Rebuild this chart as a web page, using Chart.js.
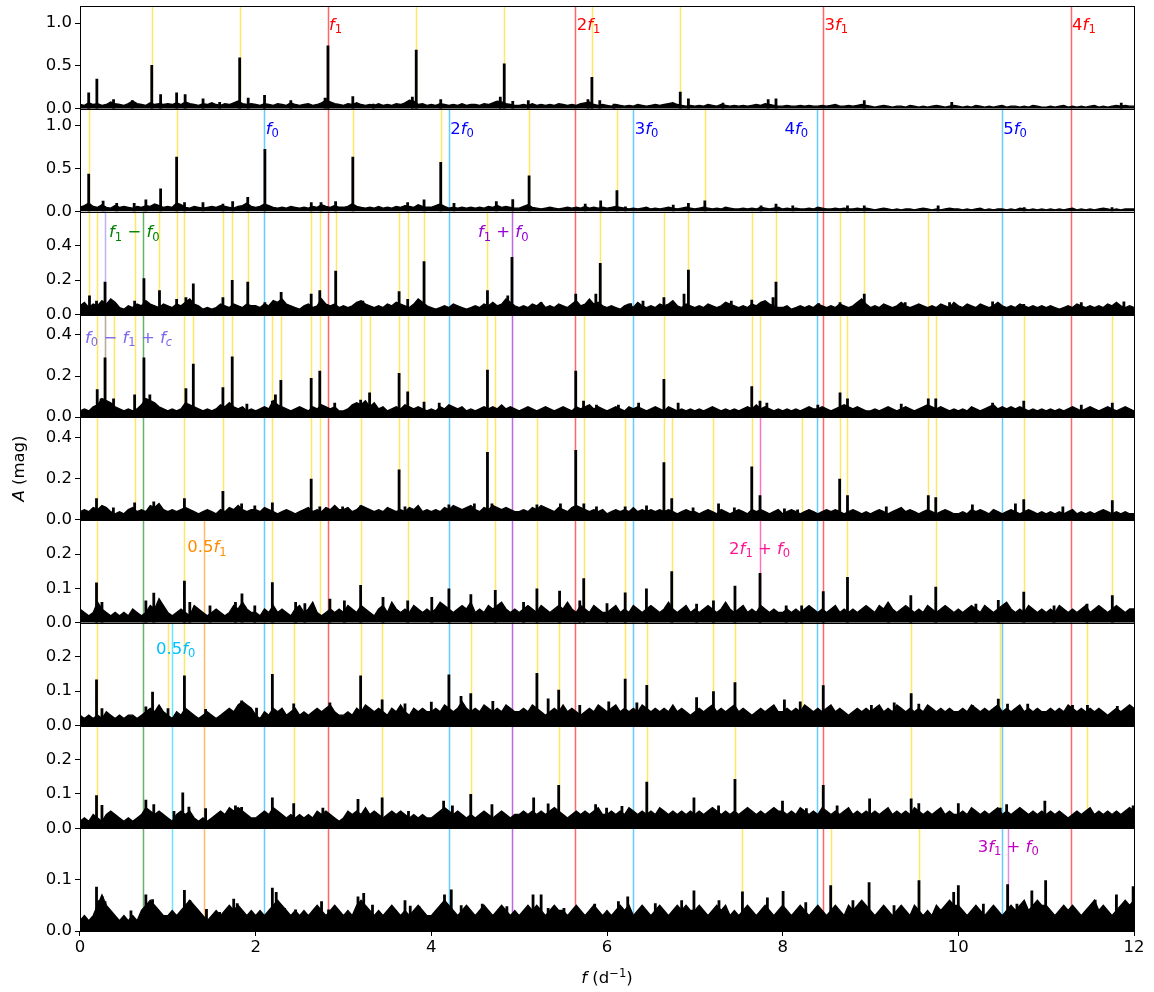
<!DOCTYPE html>
<html>
<head>
<meta charset="utf-8">
<script src="https://cdn.jsdelivr.net/npm/chart.js@4.4.0/dist/chart.umd.min.js"></script>
<style>
  body { margin: 0; background: #fff; }
  #wrap { position: relative; width: 1154px; height: 992px; }
</style>
</head>
<body>
<div id="wrap"><canvas id="myChart" width="1154" height="992"></canvas></div>
<script>
// amplitude spectra, 9 prewhitening stages, f in 1/d, A in mag
const nPanels = 9;
const freqStep = 0.05;
const yMax = [1.2, 1.2, 0.6, 0.5, 0.5, 0.3, 0.3, 0.3, 0.2];
const yTicks = [[0, 0.5, 1.0], [0, 0.5, 1.0], [0, 0.2, 0.4], [0, 0.2, 0.4], [0, 0.2, 0.4],
                [0, 0.1, 0.2], [0, 0.1, 0.2], [0, 0.1, 0.2], [0, 0.1]];

// background noise, one value every 0.05 d^-1 from 0 to 12 (one row = 1 d^-1)
const noise = [
  [0.05,0.04,0.07,0.05,0.06,0.04,0.05,0.08,0.06,0.05,0.04,0.06,0.09,0.06,0.05,0.04,0.07,0.05,0.06,0.05,
   0.06,0.05,0.07,0.05,0.08,0.06,0.05,0.04,0.06,0.05,0.07,0.05,0.04,0.06,0.05,0.07,0.09,0.06,0.05,0.06,
   0.05,0.04,0.06,0.05,0.04,0.06,0.05,0.04,0.07,0.05,0.04,0.05,0.06,0.04,0.05,0.07,0.10,0.08,0.06,0.05,
   0.04,0.06,0.05,0.07,0.05,0.04,0.05,0.04,0.06,0.04,0.05,0.04,0.06,0.05,0.07,0.10,0.09,0.05,0.06,0.04,
   0.05,0.04,0.06,0.05,0.04,0.05,0.04,0.06,0.04,0.05,0.05,0.04,0.06,0.05,0.07,0.09,0.08,0.06,0.05,0.04,
   0.04,0.05,0.04,0.06,0.04,0.05,0.04,0.05,0.04,0.06,0.05,0.04,0.05,0.04,0.06,0.07,0.08,0.05,0.04,0.05,
   0.04,0.03,0.05,0.04,0.03,0.04,0.03,0.05,0.04,0.03,0.04,0.05,0.04,0.05,0.06,0.07,0.05,0.04,0.03,0.04,
   0.03,0.04,0.03,0.05,0.04,0.03,0.05,0.04,0.03,0.04,0.03,0.04,0.03,0.04,0.05,0.04,0.06,0.05,0.04,0.03,
   0.03,0.04,0.03,0.03,0.04,0.03,0.04,0.03,0.03,0.04,0.03,0.04,0.05,0.03,0.03,0.04,0.03,0.04,0.05,0.04,
   0.03,0.02,0.03,0.04,0.03,0.02,0.03,0.03,0.02,0.04,0.03,0.02,0.03,0.02,0.03,0.04,0.03,0.02,0.03,0.04,
   0.03,0.02,0.03,0.02,0.04,0.03,0.02,0.03,0.02,0.03,0.04,0.02,0.03,0.03,0.02,0.03,0.02,0.04,0.03,0.02,
   0.02,0.03,0.02,0.03,0.04,0.02,0.03,0.02,0.03,0.02,0.03,0.04,0.02,0.03,0.02,0.03,0.04,0.03,0.04,0.03,
   0.03],
  [0.05,0.07,0.10,0.06,0.05,0.08,0.05,0.04,0.07,0.05,0.06,0.05,0.04,0.06,0.05,0.07,0.06,0.09,0.07,0.05,
   0.06,0.05,0.10,0.08,0.05,0.04,0.06,0.05,0.04,0.05,0.06,0.05,0.07,0.06,0.05,0.04,0.06,0.07,0.10,0.06,
   0.05,0.06,0.09,0.07,0.05,0.04,0.05,0.04,0.06,0.05,0.04,0.05,0.04,0.06,0.05,0.08,0.06,0.05,0.07,0.05,
   0.05,0.06,0.09,0.06,0.05,0.04,0.05,0.04,0.06,0.04,0.05,0.04,0.06,0.05,0.07,0.06,0.05,0.08,0.06,0.05,
   0.05,0.07,0.09,0.06,0.04,0.05,0.04,0.05,0.04,0.05,0.04,0.05,0.04,0.06,0.05,0.07,0.05,0.06,0.05,0.04,
   0.04,0.06,0.08,0.05,0.04,0.03,0.04,0.05,0.04,0.03,0.04,0.05,0.04,0.05,0.04,0.06,0.04,0.05,0.04,0.05,
   0.04,0.05,0.06,0.05,0.04,0.03,0.04,0.03,0.04,0.05,0.03,0.04,0.03,0.04,0.05,0.04,0.03,0.04,0.05,0.04,
   0.03,0.04,0.05,0.04,0.03,0.04,0.03,0.05,0.04,0.03,0.03,0.04,0.03,0.04,0.03,0.05,0.04,0.03,0.04,0.05,
   0.03,0.04,0.03,0.04,0.03,0.03,0.04,0.03,0.05,0.04,0.03,0.03,0.04,0.03,0.04,0.03,0.03,0.04,0.03,0.04,
   0.03,0.02,0.03,0.04,0.03,0.02,0.03,0.02,0.03,0.03,0.02,0.03,0.04,0.03,0.02,0.03,0.02,0.03,0.04,0.03,
   0.03,0.02,0.03,0.02,0.03,0.04,0.02,0.03,0.02,0.03,0.03,0.02,0.03,0.02,0.04,0.03,0.02,0.03,0.02,0.03,
   0.02,0.03,0.02,0.03,0.02,0.03,0.04,0.02,0.03,0.02,0.03,0.02,0.03,0.04,0.03,0.02,0.03,0.02,0.03,0.03,
   0.03],
  [0.05,0.07,0.04,0.06,0.05,0.08,0.06,0.09,0.07,0.04,0.03,0.05,0.04,0.06,0.05,0.08,0.06,0.05,0.04,0.06,
   0.05,0.04,0.06,0.05,0.07,0.09,0.06,0.05,0.03,0.04,0.03,0.04,0.06,0.05,0.04,0.06,0.05,0.04,0.06,0.05,
   0.05,0.04,0.06,0.05,0.08,0.07,0.09,0.06,0.05,0.04,0.03,0.05,0.06,0.04,0.05,0.09,0.06,0.05,0.06,0.04,
   0.05,0.04,0.05,0.07,0.08,0.06,0.05,0.04,0.05,0.04,0.06,0.05,0.07,0.06,0.05,0.04,0.06,0.09,0.07,0.05,
   0.04,0.03,0.04,0.05,0.04,0.06,0.05,0.04,0.03,0.04,0.05,0.04,0.06,0.05,0.07,0.05,0.06,0.09,0.07,0.05,
   0.04,0.05,0.04,0.06,0.05,0.07,0.04,0.05,0.04,0.06,0.05,0.04,0.06,0.08,0.05,0.06,0.09,0.06,0.07,0.05,
   0.04,0.05,0.04,0.03,0.05,0.06,0.04,0.07,0.05,0.04,0.05,0.04,0.06,0.05,0.06,0.08,0.05,0.04,0.06,0.05,
   0.04,0.05,0.04,0.06,0.05,0.04,0.05,0.07,0.06,0.05,0.04,0.05,0.04,0.06,0.05,0.07,0.08,0.06,0.05,0.04,
   0.04,0.05,0.03,0.04,0.05,0.04,0.05,0.04,0.06,0.05,0.04,0.05,0.04,0.06,0.05,0.04,0.05,0.07,0.09,0.06,
   0.04,0.05,0.04,0.06,0.05,0.04,0.05,0.07,0.05,0.04,0.05,0.06,0.05,0.04,0.05,0.04,0.06,0.05,0.04,0.07,
   0.05,0.04,0.06,0.05,0.04,0.06,0.05,0.04,0.05,0.07,0.05,0.04,0.05,0.04,0.06,0.05,0.04,0.05,0.04,0.05,
   0.04,0.05,0.04,0.03,0.04,0.05,0.04,0.06,0.05,0.04,0.05,0.04,0.05,0.04,0.06,0.05,0.07,0.05,0.04,0.05,
   0.04],
  [0.03,0.04,0.03,0.05,0.06,0.09,0.08,0.07,0.05,0.04,0.03,0.04,0.03,0.04,0.06,0.09,0.08,0.07,0.05,0.04,
   0.03,0.04,0.03,0.04,0.07,0.06,0.05,0.04,0.03,0.04,0.03,0.04,0.06,0.05,0.07,0.05,0.04,0.05,0.03,0.04,
   0.03,0.04,0.05,0.04,0.08,0.06,0.05,0.04,0.03,0.04,0.05,0.04,0.03,0.05,0.04,0.06,0.05,0.04,0.05,0.03,
   0.03,0.04,0.06,0.07,0.06,0.08,0.05,0.07,0.04,0.05,0.03,0.04,0.05,0.04,0.06,0.05,0.04,0.05,0.04,0.03,
   0.04,0.03,0.05,0.04,0.06,0.05,0.04,0.05,0.03,0.04,0.03,0.04,0.05,0.04,0.05,0.04,0.06,0.04,0.05,0.04,
   0.03,0.04,0.05,0.04,0.03,0.04,0.05,0.04,0.03,0.04,0.05,0.04,0.03,0.05,0.04,0.05,0.06,0.04,0.05,0.04,
   0.03,0.04,0.05,0.04,0.03,0.05,0.04,0.05,0.04,0.03,0.04,0.05,0.04,0.03,0.05,0.04,0.03,0.04,0.03,0.04,
   0.03,0.04,0.03,0.04,0.05,0.04,0.03,0.04,0.03,0.04,0.03,0.04,0.05,0.04,0.06,0.04,0.05,0.04,0.03,0.04,
   0.03,0.04,0.03,0.04,0.03,0.04,0.05,0.04,0.04,0.05,0.04,0.03,0.04,0.05,0.06,0.05,0.04,0.05,0.04,0.03,
   0.03,0.04,0.03,0.04,0.05,0.04,0.03,0.04,0.05,0.04,0.03,0.04,0.05,0.06,0.05,0.04,0.05,0.04,0.03,0.04,
   0.03,0.04,0.03,0.05,0.04,0.03,0.04,0.05,0.06,0.04,0.05,0.04,0.05,0.04,0.05,0.04,0.03,0.04,0.03,0.04,
   0.03,0.04,0.03,0.04,0.03,0.04,0.05,0.04,0.03,0.04,0.05,0.04,0.03,0.04,0.05,0.04,0.03,0.04,0.05,0.04,
   0.03],
  [0.04,0.05,0.04,0.06,0.05,0.07,0.06,0.04,0.03,0.04,0.03,0.05,0.06,0.04,0.05,0.04,0.07,0.06,0.08,0.05,
   0.04,0.05,0.04,0.05,0.06,0.05,0.04,0.03,0.04,0.05,0.04,0.03,0.05,0.04,0.06,0.05,0.07,0.05,0.04,0.05,
   0.05,0.04,0.06,0.05,0.04,0.03,0.04,0.05,0.04,0.03,0.04,0.05,0.06,0.04,0.05,0.04,0.06,0.05,0.07,0.05,
   0.05,0.06,0.04,0.05,0.07,0.06,0.05,0.04,0.05,0.04,0.06,0.05,0.04,0.05,0.04,0.06,0.05,0.07,0.04,0.05,
   0.04,0.05,0.04,0.06,0.05,0.07,0.06,0.05,0.06,0.07,0.05,0.04,0.06,0.05,0.07,0.06,0.05,0.06,0.05,0.04,
   0.04,0.05,0.04,0.06,0.05,0.07,0.06,0.05,0.04,0.06,0.05,0.04,0.06,0.07,0.06,0.05,0.04,0.05,0.04,0.05,
   0.03,0.04,0.05,0.04,0.05,0.04,0.06,0.04,0.05,0.04,0.05,0.04,0.05,0.04,0.05,0.04,0.03,0.04,0.05,0.04,
   0.04,0.03,0.04,0.05,0.04,0.03,0.05,0.04,0.03,0.04,0.05,0.04,0.03,0.05,0.04,0.05,0.04,0.03,0.04,0.05,
   0.03,0.04,0.05,0.04,0.03,0.04,0.05,0.04,0.03,0.04,0.05,0.04,0.05,0.04,0.03,0.04,0.05,0.04,0.03,0.04,
   0.03,0.04,0.05,0.04,0.03,0.04,0.05,0.06,0.04,0.05,0.04,0.03,0.04,0.05,0.04,0.03,0.04,0.05,0.04,0.03,
   0.03,0.04,0.03,0.05,0.04,0.05,0.04,0.03,0.05,0.04,0.03,0.04,0.05,0.04,0.03,0.04,0.05,0.04,0.03,0.04,
   0.03,0.04,0.03,0.04,0.03,0.04,0.05,0.03,0.04,0.03,0.04,0.03,0.04,0.05,0.04,0.03,0.04,0.03,0.04,0.03,
   0.03],
  [0.04,0.03,0.02,0.03,0.06,0.04,0.03,0.02,0.03,0.02,0.03,0.02,0.04,0.03,0.02,0.03,0.05,0.04,0.07,0.05,
   0.03,0.02,0.03,0.04,0.03,0.02,0.05,0.04,0.03,0.02,0.03,0.04,0.03,0.02,0.03,0.05,0.04,0.06,0.04,0.03,
   0.03,0.02,0.04,0.03,0.05,0.03,0.04,0.03,0.02,0.04,0.05,0.03,0.04,0.06,0.03,0.02,0.03,0.04,0.03,0.04,
   0.03,0.05,0.04,0.03,0.05,0.04,0.03,0.02,0.04,0.05,0.03,0.06,0.04,0.03,0.04,0.03,0.05,0.04,0.03,0.04,
   0.03,0.04,0.06,0.05,0.04,0.03,0.04,0.05,0.04,0.06,0.03,0.04,0.03,0.05,0.04,0.05,0.06,0.04,0.03,0.04,
   0.03,0.04,0.05,0.04,0.03,0.05,0.04,0.03,0.04,0.05,0.04,0.06,0.04,0.03,0.05,0.04,0.03,0.05,0.04,0.03,
   0.03,0.04,0.05,0.03,0.04,0.03,0.05,0.04,0.03,0.04,0.05,0.04,0.03,0.04,0.06,0.04,0.03,0.04,0.05,0.03,
   0.04,0.03,0.04,0.05,0.04,0.03,0.04,0.06,0.04,0.03,0.04,0.05,0.03,0.04,0.03,0.05,0.04,0.03,0.04,0.03,
   0.03,0.04,0.03,0.04,0.03,0.04,0.05,0.04,0.03,0.04,0.03,0.04,0.05,0.03,0.04,0.03,0.04,0.03,0.04,0.05,
   0.04,0.03,0.05,0.04,0.06,0.04,0.03,0.04,0.05,0.04,0.03,0.04,0.03,0.05,0.04,0.03,0.04,0.05,0.04,0.03,
   0.04,0.03,0.04,0.05,0.04,0.03,0.05,0.04,0.03,0.04,0.05,0.06,0.04,0.03,0.04,0.03,0.05,0.04,0.03,0.04,
   0.03,0.04,0.03,0.05,0.04,0.03,0.04,0.03,0.04,0.05,0.03,0.04,0.05,0.04,0.03,0.04,0.05,0.04,0.03,0.04,
   0.04],
  [0.03,0.02,0.03,0.02,0.03,0.02,0.04,0.03,0.02,0.03,0.02,0.03,0.03,0.02,0.03,0.04,0.05,0.04,0.06,0.04,
   0.03,0.02,0.04,0.03,0.05,0.04,0.03,0.02,0.03,0.04,0.03,0.02,0.03,0.04,0.05,0.04,0.06,0.07,0.06,0.05,
   0.03,0.02,0.04,0.03,0.05,0.04,0.05,0.03,0.04,0.05,0.03,0.04,0.03,0.04,0.05,0.04,0.05,0.06,0.04,0.03,
   0.03,0.04,0.03,0.05,0.04,0.06,0.05,0.04,0.05,0.04,0.03,0.05,0.04,0.06,0.04,0.03,0.05,0.04,0.05,0.04,
   0.04,0.05,0.04,0.06,0.05,0.04,0.05,0.07,0.05,0.04,0.05,0.04,0.06,0.05,0.04,0.05,0.04,0.06,0.05,0.04,
   0.04,0.05,0.04,0.06,0.05,0.04,0.03,0.04,0.05,0.04,0.06,0.04,0.05,0.04,0.03,0.04,0.05,0.04,0.06,0.05,
   0.04,0.05,0.06,0.04,0.05,0.04,0.05,0.04,0.06,0.05,0.04,0.05,0.04,0.05,0.04,0.06,0.04,0.05,0.04,0.03,
   0.04,0.05,0.04,0.05,0.06,0.04,0.05,0.04,0.05,0.06,0.04,0.05,0.04,0.03,0.04,0.05,0.04,0.05,0.06,0.04,
   0.04,0.05,0.04,0.05,0.04,0.06,0.05,0.04,0.05,0.04,0.05,0.06,0.04,0.05,0.04,0.03,0.04,0.05,0.04,0.05,
   0.04,0.05,0.06,0.04,0.05,0.04,0.06,0.05,0.04,0.05,0.04,0.05,0.04,0.06,0.05,0.04,0.05,0.04,0.05,0.04,
   0.04,0.05,0.04,0.06,0.05,0.04,0.05,0.04,0.05,0.06,0.04,0.05,0.04,0.05,0.06,0.04,0.05,0.04,0.05,0.04,
   0.04,0.05,0.04,0.05,0.04,0.06,0.05,0.04,0.05,0.04,0.05,0.04,0.05,0.04,0.03,0.04,0.05,0.04,0.05,0.06,
   0.05],
  [0.02,0.03,0.02,0.04,0.03,0.02,0.04,0.05,0.04,0.03,0.02,0.03,0.02,0.03,0.04,0.06,0.05,0.04,0.05,0.04,
   0.03,0.02,0.04,0.05,0.04,0.05,0.03,0.02,0.03,0.02,0.03,0.04,0.05,0.04,0.06,0.05,0.06,0.05,0.04,0.03,
   0.03,0.04,0.05,0.04,0.06,0.05,0.04,0.03,0.04,0.03,0.04,0.03,0.04,0.03,0.05,0.04,0.05,0.04,0.03,0.02,
   0.03,0.05,0.04,0.05,0.04,0.06,0.04,0.05,0.04,0.03,0.04,0.05,0.04,0.05,0.04,0.03,0.04,0.03,0.04,0.03,
   0.03,0.04,0.05,0.06,0.05,0.04,0.05,0.04,0.03,0.04,0.03,0.04,0.05,0.04,0.03,0.04,0.05,0.04,0.03,0.04,
   0.04,0.05,0.04,0.05,0.04,0.05,0.04,0.05,0.06,0.05,0.04,0.03,0.04,0.05,0.04,0.05,0.04,0.05,0.06,0.04,
   0.04,0.05,0.04,0.05,0.04,0.06,0.05,0.04,0.05,0.04,0.05,0.04,0.06,0.05,0.04,0.05,0.04,0.05,0.04,0.05,
   0.04,0.05,0.04,0.05,0.06,0.05,0.04,0.05,0.04,0.05,0.04,0.05,0.06,0.05,0.04,0.05,0.04,0.05,0.06,0.05,
   0.05,0.04,0.05,0.04,0.06,0.05,0.04,0.05,0.04,0.06,0.05,0.04,0.05,0.04,0.05,0.06,0.04,0.05,0.04,0.05,
   0.04,0.05,0.04,0.05,0.06,0.04,0.05,0.04,0.05,0.04,0.06,0.05,0.04,0.05,0.04,0.05,0.06,0.04,0.05,0.04,
   0.04,0.05,0.04,0.06,0.05,0.04,0.05,0.04,0.05,0.06,0.04,0.05,0.04,0.05,0.06,0.05,0.04,0.05,0.04,0.05,
   0.04,0.05,0.04,0.05,0.04,0.03,0.04,0.05,0.04,0.05,0.06,0.04,0.05,0.04,0.05,0.04,0.05,0.04,0.05,0.06,
   0.05],
  [0.02,0.03,0.02,0.03,0.05,0.07,0.05,0.04,0.03,0.02,0.03,0.02,0.03,0.02,0.04,0.05,0.06,0.05,0.04,0.03,
   0.03,0.04,0.03,0.04,0.05,0.06,0.05,0.04,0.03,0.02,0.03,0.04,0.03,0.04,0.05,0.04,0.05,0.04,0.03,0.04,
   0.03,0.04,0.03,0.04,0.05,0.06,0.05,0.04,0.03,0.04,0.03,0.04,0.03,0.04,0.05,0.04,0.03,0.04,0.05,0.04,
   0.03,0.04,0.03,0.05,0.06,0.05,0.04,0.03,0.04,0.03,0.04,0.05,0.04,0.03,0.04,0.03,0.04,0.05,0.04,0.03,
   0.03,0.04,0.05,0.06,0.05,0.04,0.03,0.04,0.05,0.04,0.03,0.04,0.05,0.04,0.03,0.04,0.05,0.04,0.03,0.04,
   0.03,0.04,0.05,0.04,0.05,0.04,0.03,0.04,0.05,0.04,0.04,0.03,0.04,0.05,0.04,0.03,0.04,0.05,0.04,0.03,
   0.04,0.03,0.04,0.05,0.04,0.05,0.03,0.04,0.05,0.04,0.03,0.04,0.05,0.04,0.03,0.04,0.05,0.04,0.05,0.04,
   0.04,0.05,0.04,0.03,0.04,0.05,0.04,0.05,0.03,0.04,0.03,0.04,0.05,0.04,0.03,0.04,0.05,0.04,0.03,0.04,
   0.05,0.04,0.03,0.04,0.05,0.04,0.03,0.04,0.05,0.04,0.03,0.04,0.05,0.04,0.03,0.05,0.04,0.05,0.06,0.05,
   0.04,0.03,0.04,0.05,0.04,0.03,0.04,0.05,0.04,0.03,0.05,0.04,0.03,0.04,0.03,0.05,0.04,0.05,0.06,0.05,
   0.05,0.04,0.03,0.04,0.05,0.04,0.03,0.04,0.05,0.04,0.03,0.04,0.05,0.04,0.05,0.06,0.04,0.05,0.06,0.05,
   0.05,0.04,0.03,0.04,0.05,0.04,0.05,0.04,0.03,0.04,0.05,0.06,0.04,0.05,0.04,0.03,0.04,0.05,0.06,0.05,
   0.06]
];

// resolved peaks: frequency and amplitude, per panel
const peakFreq = [
  [0.099,0.192,0.382,0.595,0.817,0.918,1.100,1.197,1.401,1.590,1.818,1.915,2.101,2.400,2.790,2.823,3.106,3.340,3.784,3.828,
   4.107,4.785,4.830,4.927,5.104,5.783,5.828,5.918,6.080,6.834,6.927,7.320,7.835,7.924,8.929,9.925,11.855],
  [0.099,0.263,0.418,0.617,0.750,0.918,1.100,1.190,1.400,1.627,1.738,1.910,2.105,2.633,2.744,2.910,3.106,3.730,3.917,4.107,
   4.258,4.740,4.927,5.113,5.752,5.928,6.113,6.210,6.754,6.927,7.114,7.754,7.924,8.115,8.738,8.929,9.770,10.750,11.750],
  [0.108,0.188,0.285,0.380,0.622,0.728,0.905,1.100,1.206,1.290,1.627,1.733,1.910,2.105,2.290,2.632,2.730,2.911,3.220,3.633,
   3.731,3.917,4.639,4.870,4.918,5.250,5.644,5.873,5.923,6.270,6.410,6.648,6.877,6.927,7.415,7.648,7.740,7.890,7.924,8.410,
   8.653,8.929,9.395,9.900,10.390,10.745,11.400,11.885],
  [0.196,0.240,0.285,0.382,0.622,0.728,0.795,1.206,1.290,1.627,1.733,1.900,2.190,2.225,2.287,2.632,2.730,2.900,3.195,3.297,
   3.633,3.731,3.917,4.090,4.639,5.644,5.733,5.880,6.130,6.360,6.648,6.810,7.648,7.742,7.820,8.400,8.653,8.738,9.350,9.658,
   9.743,10.390,10.745,11.400,11.753],
  [0.188,0.380,0.622,0.840,1.189,1.627,1.840,1.990,2.190,2.632,2.730,2.990,3.195,3.633,3.700,4.200,4.490,4.639,4.690,5.202,
   5.470,5.644,5.736,5.880,6.207,6.450,6.648,6.737,6.980,7.270,7.450,7.648,7.742,8.020,8.170,8.649,8.738,9.180,9.658,9.743,
   10.160,10.650,10.745,11.190,11.753],
  [0.188,0.250,0.750,0.840,1.189,1.250,1.480,1.770,1.844,1.990,2.190,2.455,2.560,2.845,3.010,3.195,3.450,3.731,4.005,4.200,
   4.450,4.728,5.050,5.202,5.460,5.690,5.735,6.000,6.207,6.449,6.737,7.020,7.212,7.457,7.742,8.040,8.216,8.462,8.738,9.205,
   9.459,9.743,10.200,10.455,10.745,11.090,11.465,11.753],
  [0.188,0.250,0.750,0.826,1.002,1.189,1.430,1.840,2.010,2.190,2.433,2.845,3.195,3.440,3.700,4.000,4.200,4.338,4.449,4.700,
   5.202,5.330,5.450,5.690,6.020,6.207,6.340,6.453,7.020,7.212,7.457,8.020,8.200,8.462,9.010,9.270,9.463,9.550,10.160,10.455,
   10.560,10.790,11.300,11.470,11.810],
  [0.188,0.250,0.750,0.840,1.070,1.170,1.240,1.430,1.770,1.840,2.190,2.433,2.765,3.165,3.440,3.740,4.140,4.240,4.449,4.690,
   5.165,5.330,5.450,5.870,5.995,6.170,6.453,6.990,7.270,7.457,7.998,8.270,8.462,8.620,8.990,9.463,9.550,10.000,10.477,10.550,
   10.985,11.470,11.990],
  [0.188,0.220,0.254,0.285,0.580,0.750,0.826,1.189,1.250,1.440,1.590,1.750,1.790,2.190,2.234,2.330,2.455,2.750,2.830,3.165,
   3.230,3.330,3.700,3.760,3.860,4.150,4.227,4.340,4.580,4.860,5.158,5.250,5.330,5.510,5.860,6.130,6.236,6.550,6.850,6.990,
   7.275,7.542,7.826,8.005,8.263,8.547,8.800,8.984,9.268,9.552,9.947,10.000,10.285,10.561,10.667,10.837,10.994,11.558,11.800,11.990]
];
const peakAmp = [
  [0.19,0.35,0.11,0.10,0.51,0.17,0.19,0.17,0.12,0.08,0.60,0.13,0.16,0.10,0.13,0.74,0.145,0.06,0.14,0.69,
   0.11,0.14,0.53,0.09,0.10,0.11,0.37,0.10,0.06,0.20,0.12,0.07,0.11,0.12,0.10,0.08,0.07],
  [0.44,0.125,0.10,0.10,0.14,0.27,0.64,0.11,0.11,0.09,0.12,0.17,0.73,0.11,0.11,0.12,0.64,0.11,0.14,0.58,
   0.10,0.12,0.145,0.42,0.09,0.13,0.25,0.06,0.08,0.10,0.13,0.07,0.09,0.07,0.07,0.07,0.07,0.05,0.05],
  [0.11,0.08,0.19,0.07,0.08,0.21,0.14,0.09,0.10,0.18,0.10,0.20,0.19,0.07,0.13,0.12,0.14,0.255,0.08,0.135,
   0.09,0.31,0.14,0.11,0.335,0.07,0.12,0.12,0.30,0.065,0.08,0.10,0.12,0.26,0.08,0.085,0.05,0.10,0.19,0.065,
   0.07,0.12,0.07,0.07,0.075,0.06,0.07,0.075],
  [0.135,0.09,0.29,0.09,0.11,0.29,0.11,0.14,0.26,0.145,0.295,0.065,0.08,0.11,0.18,0.19,0.225,0.07,0.085,0.12,
   0.215,0.125,0.075,0.07,0.23,0.225,0.08,0.06,0.06,0.07,0.185,0.07,0.15,0.08,0.07,0.06,0.12,0.09,0.065,0.09,
   0.09,0.07,0.08,0.06,0.07],
  [0.105,0.06,0.085,0.09,0.105,0.14,0.08,0.07,0.085,0.20,0.065,0.065,0.07,0.245,0.065,0.075,0.08,0.33,0.08,0.075,
   0.08,0.34,0.08,0.065,0.065,0.07,0.28,0.105,0.06,0.08,0.06,0.26,0.12,0.055,0.05,0.20,0.12,0.065,0.12,0.11,
   0.075,0.08,0.10,0.065,0.095],
  [0.117,0.06,0.065,0.087,0.122,0.06,0.05,0.06,0.085,0.05,0.118,0.06,0.057,0.07,0.065,0.11,0.075,0.065,0.075,0.10,
   0.083,0.095,0.06,0.10,0.093,0.065,0.13,0.057,0.088,0.10,0.15,0.055,0.065,0.108,0.145,0.05,0.05,0.092,0.133,0.055,
   0.08,0.105,0.055,0.066,0.09,0.05,0.055,0.08],
  [0.134,0.05,0.055,0.098,0.05,0.146,0.048,0.073,0.052,0.15,0.064,0.067,0.146,0.076,0.064,0.069,0.149,0.086,0.094,0.071,
   0.153,0.079,0.104,0.06,0.07,0.136,0.067,0.118,0.082,0.10,0.126,0.076,0.07,0.117,0.06,0.067,0.094,0.063,0.06,0.078,
   0.063,0.063,0.06,0.06,0.057],
  [0.096,0.068,0.083,0.07,0.05,0.104,0.063,0.058,0.066,0.062,0.09,0.073,0.06,0.085,0.09,0.05,0.08,0.066,0.10,0.07,
   0.09,0.072,0.126,0.07,0.06,0.065,0.136,0.09,0.066,0.144,0.08,0.058,0.126,0.066,0.087,0.087,0.073,0.073,0.06,0.07,
   0.08,0.04,0.066],
  [0.086,0.06,0.067,0.058,0.04,0.071,0.062,0.08,0.06,0.043,0.037,0.063,0.054,0.084,0.076,0.045,0.042,0.058,0.042,0.067,
   0.074,0.051,0.06,0.049,0.048,0.071,0.081,0.05,0.053,0.048,0.071,0.071,0.045,0.045,0.053,0.058,0.067,0.054,0.06,0.079,
   0.06,0.077,0.065,0.078,0.056,0.089,0.06,0.095,0.05,0.099,0.076,0.089,0.053,0.091,0.053,0.079,0.099,0.061,0.071,0.087]
];

// identified frequencies (vertical markers)
const f1Harmonics = [2.820, 5.640, 8.460, 11.280];
const f0Harmonics = [2.099, 4.199, 6.298, 8.396, 10.495];
const comboFreq  = [0.721, 4.918, 0.285, 1.410, 7.740, 1.050, 10.560];
const comboFirst = [2, 2, 2, 5, 4, 6, 8];
const comboLast  = [8, 8, 3, 8, 5, 8, 8];
// aliases marked in each panel
const aliasFreq = [
  [0.817, 1.818, 3.828, 4.830, 5.828, 6.834],
  [0.099, 1.100, 3.106, 4.107, 5.113, 6.113, 7.114],
  [0.099, 0.188, 0.622, 0.905, 1.100, 1.189, 1.627, 1.733, 1.910, 2.632, 2.730, 2.911, 3.633, 3.731, 3.917, 4.639,
   5.923, 6.648, 6.927, 7.648, 7.924, 8.653, 8.929, 9.658],
  [0.188, 0.285, 0.382, 0.622, 1.189, 1.290, 1.627, 1.733, 2.190, 2.287, 2.632, 2.730, 3.195, 3.297, 3.633, 3.731,
   3.917, 4.639, 4.728, 5.733, 6.648, 7.648, 7.742, 8.653, 8.738, 9.658, 9.743, 10.744, 11.753],
  [0.188, 0.622, 1.189, 1.627, 2.190, 2.632, 2.730, 3.195, 3.633, 3.731, 4.639, 4.728, 5.202, 5.735, 6.207, 6.648,
   6.737, 7.212, 7.648, 8.216, 8.649, 8.738, 9.658, 9.743, 10.744, 11.753],
  [0.188, 1.189, 2.190, 2.730, 3.195, 3.731, 4.728, 5.202, 5.735, 6.207, 6.737, 7.212, 8.216, 8.738, 9.743, 10.744, 11.753],
  [0.188, 1.002, 1.189, 2.190, 2.433, 3.195, 3.440, 4.449, 5.202, 5.450, 6.207, 6.453, 7.212, 7.457, 8.216, 9.463,
   10.477, 11.469],
  [0.188, 2.433, 3.440, 4.449, 5.450, 6.453, 7.457, 9.463, 10.477, 11.469],
  [7.542, 8.547, 9.552]
];

// marker labels
const labelText  = ['f_1', '2f_1', '3f_1', '4f_1', 'f_0', '2f_0', '3f_0', '4f_0', '5f_0',
                    'f_1 − f_0', 'f_1 + f_0', 'f_0 − f_1 + f_c', '0.5f_1', '2f_1 + f_0', '0.5f_0', '3f_1 + f_0'];
const labelPanel = [0, 0, 0, 0, 1, 1, 1, 1, 1, 2, 2, 3, 5, 5, 6, 8];
const labelFreq  = [2.835, 5.655, 8.475, 11.295, 2.115, 4.215, 6.315, 8.290, 10.510,
                    0.330, 4.530, 0.057, 1.220, 7.390, 0.865, 10.220];
const labelAmp   = [0.92, 0.92, 0.92, 0.92, 0.91, 0.91, 0.91, 0.91, 0.91,
                    0.45, 0.45, 0.36, 0.205, 0.20, 0.21, 0.154];

// styles
const FONT = 'DejaVu Sans';
const FS = 16.5;
const f1Color = ['rgba(255,0,0,0.6)', '#ff0000'];
const f0Color = ['rgba(0,170,255,0.6)', '#0000ff'];
const comboLineColor = ['rgba(0,128,0,0.6)', 'rgba(148,0,211,0.6)', 'rgba(123,104,238,0.5)', 'rgba(255,140,0,0.6)',
                        'rgba(255,20,147,0.6)', 'rgba(0,215,255,0.6)', 'rgba(192,0,192,0.45)'];
const comboTextColor = ['#008000', '#9400d3', '#7b68ee', '#ff8c00', '#ff1493', '#00bfff', '#c000c0'];
const aliasColor = 'rgba(255,215,0,0.6)';
const labelColor = ['#ff0000', '#ff0000', '#ff0000', '#ff0000', '#0000ff', '#0000ff', '#0000ff', '#0000ff', '#0000ff']
  .concat(comboTextColor);
const labelAlign = labelText.map(t => t === '4f_0' ? 'right' : 'left');

function drawMath(ctx, text, x, y, size, color, align) {
  const parts = [];
  for (let i = 0; i < text.length; i++) {
    let ch = text[i], shift = 0, scale = 1;
    if (ch === '_' || ch === '^') {
      shift = ch === '_' ? 0.2 : -0.38;
      scale = 0.7;
      ch = text[++i];
    }
    parts.push({ ch, shift, scale, italic: /[fAc]/.test(ch) });
  }
  let total = 0;
  parts.forEach(p => {
    ctx.font = (p.italic ? 'italic ' : '') + (size * p.scale) + 'px "' + FONT + '"';
    p.w = ctx.measureText(p.ch).width;
    total += p.w;
  });
  let cx = align === 'right' ? x - total : align === 'center' ? x - total / 2 : x;
  ctx.fillStyle = color;
  ctx.textBaseline = 'alphabetic';
  ctx.textAlign = 'left';
  parts.forEach(p => {
    ctx.font = (p.italic ? 'italic ' : '') + (size * p.scale) + 'px "' + FONT + '"';
    ctx.fillText(p.ch, cx, y + p.shift * size);
    cx += p.w;
  });
}

const markers = {
  id: 'markers',
  beforeDatasetsDraw(chart) {
    const ctx = chart.ctx, xs = chart.scales.x;
    ctx.save();
    ctx.lineWidth = 1.5;
    for (let p = 0; p < nPanels; p++) {
      const ys = chart.scales['y' + p];
      const vline = (f, color) => {
        const px = Math.round(xs.getPixelForValue(f)) + 0.5;
        ctx.strokeStyle = color;
        ctx.beginPath();
        ctx.moveTo(px, ys.top);
        ctx.lineTo(px, ys.bottom);
        ctx.stroke();
      };
      aliasFreq[p].forEach(f => vline(f, aliasColor));
      f1Harmonics.forEach(f => vline(f, f1Color[0]));
      if (p >= 1) f0Harmonics.forEach(f => vline(f, f0Color[0]));
      comboFreq.forEach((f, i) => {
        if (p >= comboFirst[i] && p <= comboLast[i]) vline(f, comboLineColor[i]);
      });
    }
    ctx.restore();
  },
  afterDatasetsDraw(chart) {
    const ctx = chart.ctx, xs = chart.scales.x;
    ctx.save();
    labelText.forEach((t, i) => {
      const ys = chart.scales['y' + labelPanel[i]];
      const px = xs.getPixelForValue(labelFreq[i]);
      const py = ys.getPixelForValue(labelAmp[i]);
      drawMath(ctx, t, px, py, FS, labelColor[i], labelAlign[i]);
    });
    // panel frames
    ctx.strokeStyle = '#000';
    ctx.lineWidth = 1;
    for (let p = 0; p < nPanels; p++) {
      const ys = chart.scales['y' + p];
      ctx.strokeRect(Math.round(xs.left) + 0.5, Math.round(ys.top) + 0.5,
                     Math.round(xs.right - xs.left), Math.round(ys.bottom - ys.top));
    }
    // axis titles
    drawMath(ctx, 'f (d^−^1)', (xs.left + xs.right) / 2, 983, FS, '#000', 'center');
    ctx.translate(24, (chart.chartArea.top + chart.chartArea.bottom) / 2);
    ctx.rotate(-Math.PI / 2);
    drawMath(ctx, 'A (mag)', 0, 0, FS, '#000', 'center');
    ctx.restore();
  }
};

Chart.defaults.font.family = FONT;
Chart.defaults.font.size = FS;
Chart.defaults.color = '#000';

const datasets = [];
const scales = {
  x: {
    type: 'linear', position: 'bottom', min: 0, max: 12,
    ticks: { stepSize: 2, padding: 2, maxRotation: 0 },
    grid: { display: true, drawOnChartArea: false, tickLength: 5, tickColor: '#000' },
    border: { display: true, color: '#000', width: 1 },
    afterFit(s) { s.height = 32; s.paddingLeft = 0; s.paddingRight = 0; }
  }
};
for (let p = 0; p < nPanels; p++) {
  const id = 'y' + p;
  datasets.push({
    data: noise[p].map((v, i) => ({ x: +(i * freqStep).toFixed(2), y: v })),
    yAxisID: id, borderColor: '#000', backgroundColor: '#000', borderWidth: 1.3,
    fill: 'origin', pointRadius: 0, tension: 0
  });
  const spikes = [];
  peakFreq[p].forEach((f, i) => spikes.push({ x: f, y: 0 }, { x: f, y: peakAmp[p][i] }, { x: f, y: null }));
  datasets.push({
    data: spikes, yAxisID: id, borderColor: '#000', borderWidth: 2.8,
    fill: false, pointRadius: 0, spanGaps: false
  });
  scales[id] = {
    type: 'linear', position: 'left', stack: 'panels', stackWeight: 1, weight: nPanels - p,
    min: 0, max: yMax[p],
    afterBuildTicks(s) { s.ticks = yTicks[p].map(v => ({ value: v })); },
    ticks: { padding: 3, callback: v => v.toFixed(1) },
    grid: { display: true, drawOnChartArea: false, tickLength: 5, tickColor: '#000' },
    border: { display: true, color: '#000', width: 1 },
    afterFit(s) { s.width = 80; s.paddingTop = 0; s.paddingBottom = 0; }
  };
}

const ctx = document.getElementById('myChart').getContext('2d');
const myChart = new Chart(ctx, {
  type: 'line',
  data: { datasets: datasets },
  options: {
    responsive: false,
    animation: false,
    layout: { padding: { left: 0, right: 20, top: 6, bottom: 29 } },
    plugins: { legend: { display: false }, tooltip: { enabled: false } },
    scales: scales
  },
  plugins: [markers]
});
</script>
</body>
</html>
